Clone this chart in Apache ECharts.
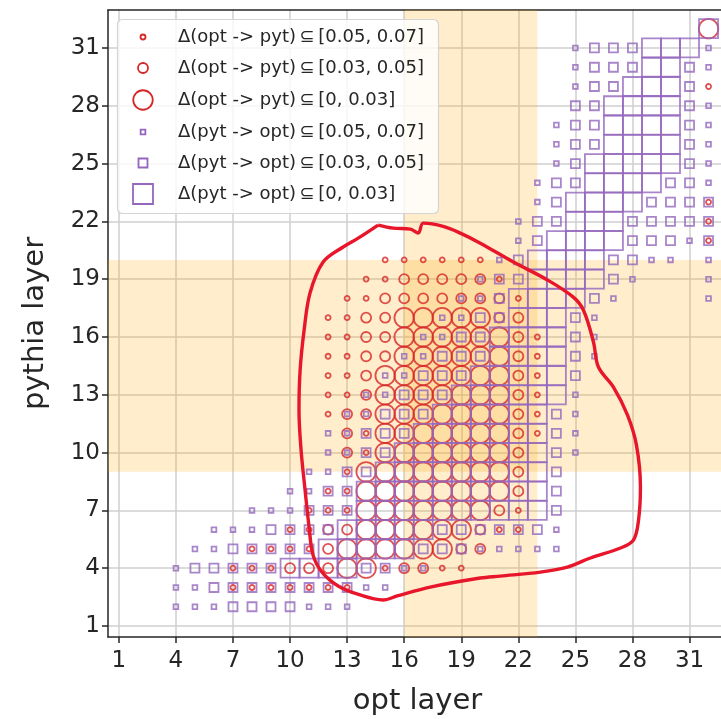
<!DOCTYPE html>
<html><head><meta charset="utf-8">
<script src="https://cdn.jsdelivr.net/npm/echarts@6/dist/echarts.min.js"></script>
<style>html,body{margin:0;padding:0;background:#fff}#c{width:721px;height:719px}</style>
</head><body><div id="c"></div>
<script>
// ---- data ----
const tickValues = [1, 4, 7, 10, 13, 16, 19, 22, 25, 28, 31];
const optLayers = Array.from({length: 32}, (_, i) => i + 1);          // x = 1..32 (string column index + 1)
const pythiaLayers = Array.from({length: 32}, (_, i) => 32 - i);      // rows listed from 32 down to 1
// category per cell: 0 none, 1 = [0.05,0.07], 2 = [0.03,0.05], 3 = [0,0.03]
const optToPytRows = [
  "0000 0000 0000 0000 0000 0000 0000 0003", // 32
  "0000 0000 0000 0000 0000 0000 0000 0000", // 31
  "0000 0000 0000 0000 0000 0000 0000 0000", // 30
  "0000 0000 0000 0000 0000 0000 0000 0001", // 29
  "0000 0000 0000 0000 0000 0000 0000 0000", // 28
  "0000 0000 0000 0000 0000 0000 0000 0000", // 27
  "0000 0000 0000 0000 0000 0000 0000 0000", // 26
  "0000 0000 0000 0000 0000 0000 0000 0000", // 25
  "0000 0000 0000 0000 0000 0000 0000 0000", // 24
  "0000 0000 0000 0000 0000 0000 0000 0001", // 23
  "0000 0000 0000 0000 0000 0000 0000 0001", // 22
  "0000 0000 0000 0000 0000 0000 0000 0001", // 21
  "0000 0000 0000 0011 1111 0000 0000 0000", // 20
  "0000 0000 0000 0112 2222 1000 0000 0000", // 19
  "0000 0000 0000 1122 2222 2100 0000 0000", // 18
  "0000 0000 0001 1223 3333 2200 0000 0000", // 17
  "0000 0000 0001 1223 3333 3210 0000 0000", // 16
  "0000 0000 0001 1223 3333 3210 0000 0000", // 15
  "0000 0000 0001 1233 3333 3210 0000 0000", // 14
  "0000 0000 0001 1233 3333 3210 0000 0000", // 13
  "0000 0000 0001 2233 3333 3210 0000 0000", // 12
  "0000 0000 0000 2133 3333 3210 0000 0000", // 11
  "0000 0000 0000 2133 3333 3200 0000 0000", // 10
  "0000 0000 0000 1333 3333 3200 0000 0000", // 9
  "0000 0000 0001 1333 3333 3200 0000 0000", // 8
  "0000 0000 0011 1333 3333 2100 0000 0000", // 7
  "0000 0000 0112 2333 3332 1100 0000 0000", // 6
  "0000 0001 1112 3333 3322 0000 0000 0000", // 5
  "0000 0011 1222 3312 2110 0000 0000 0000", // 4
  "0000 0011 1111 1000 0000 0000 0000 0000", // 3
  "0000 0000 0000 0000 0000 0000 0000 0000", // 2
  "0000 0000 0000 0000 0000 0000 0000 0000"  // 1
];
const pytToOptRows = [
  "0000 0000 0000 0000 0000 0000 0000 0003", // 32
  "0000 0000 0000 0000 0000 0000 1222 3331", // 31
  "0000 0000 0000 0000 0000 0000 1222 3321", // 30
  "0000 0000 0000 0000 0000 0000 1223 3320", // 29
  "0000 0000 0000 0000 0000 0000 2233 3321", // 28
  "0000 0000 0000 0000 0000 0001 2233 3321", // 27
  "0000 0000 0000 0000 0000 0001 2233 3321", // 26
  "0000 0000 0000 0000 0000 0001 2333 3321", // 25
  "0000 0000 0000 0000 0000 0012 2333 3221", // 24
  "0000 0000 0000 0000 0000 0012 3333 2222", // 23
  "0000 0000 0000 0000 0000 0122 3332 2222", // 22
  "0000 0000 0000 0000 0000 0123 3332 2212", // 21
  "0000 0000 0000 0000 0000 1233 3322 1101", // 20
  "0000 0000 0000 0000 0001 2233 3321 0001", // 19
  "0000 0000 0000 0000 0011 2333 3210 0001", // 18
  "0000 0000 0000 0000 0112 2333 2100 0000", // 17
  "0000 0000 0000 0000 1122 3333 2100 0000", // 16
  "0000 0000 0000 0001 1222 3333 2100 0000", // 15
  "0000 0000 0000 0011 2223 3333 2000 0000", // 14
  "0000 0000 0000 0112 2233 3333 1000 0000", // 13
  "0000 0000 0000 1122 2333 3332 1000 0000", // 12
  "0000 0000 0001 1222 3333 3332 1000 0000", // 11
  "0000 0000 0001 1223 3333 3332 1000 0000", // 10
  "0000 0000 0011 2233 3333 3332 0000 0000", // 9
  "0000 0000 0112 2333 3333 3332 0000 0000", // 8
  "0000 0001 1122 2333 3333 3332 0000 0000", // 7
  "0000 0111 2222 3333 3222 2221 0000 0000", // 6
  "0000 1122 2223 3333 2221 1111 0000 0000", // 5
  "0001 2222 2333 3221 1000 0000 0000 0000", // 4
  "0001 1222 2222 2110 0000 0000 0000 0000", // 3
  "0001 1122 2211 1000 0000 0000 0000 0000", // 2
  "0000 0000 0000 0000 0000 0000 0000 0000"  // 1
];
const rangeLabels = ["[0.05, 0.07]", "[0.03, 0.05]", "[0, 0.03]"];
// hand-drawn outline (opt layer, pythia layer)
const curveOpt = [14.63, 15.42, 16.32, 16.74, 17.0, 18.05, 18.95, 20.0, 21.74, 23.53, 24.89, 25.42, 25.95, 26.21, 27.0, 27.74, 28.21, 28.42, 28.32, 28.05, 27.37, 25.79, 24.58, 23.16, 21.05, 20.0, 17.37, 15.63, 14.89, 13.68, 12.53, 11.68, 11.21, 11.0, 10.79, 10.58, 10.47, 10.53, 10.74, 11.05, 11.74, 12.79, 13.58, 14.63];
const curvePyt = [21.81, 21.65, 21.60, 21.39, 21.91, 21.74, 21.39, 20.87, 19.89, 18.96, 18.07, 17.40, 15.74, 14.44, 13.40, 11.95, 10.39, 8.21, 6.50, 5.46, 5.05, 4.53, 4.06, 3.80, 3.59, 3.49, 3.02, 2.56, 2.35, 2.61, 3.08, 3.80, 4.68, 6.14, 8.06, 10.13, 12.21, 14.28, 16.36, 18.28, 19.89, 20.67, 21.13, 21.81];
const bandOpt = [16, 23];
const bandPyt = [9, 20];

// ---- build ----
const FONT = 'DejaVu Sans';
const RED = '#d62728', PURPLE = '#9467bd', INK = '#262626';
const STROKE = 1.8;
function cells(rows, cat) {
  const out = [];
  rows.forEach((s, i) => {
    s.replace(/ /g, '').split('').map(Number).forEach((c, j) => {
      if (c === cat) out.push([optLayers[j], pythiaLayers[i]]);
    });
  });
  return out;
}
const circleSizes = [5, 10, 19.5];
const squareSizes = [4.7, 9, 19];
const circleNames = rangeLabels.map(r => 'Δ(opt -> pyt)\u2009⊆\u2009' + r);
const squareNames = rangeLabels.map(r => 'Δ(pyt -> opt)\u2009⊆\u2009' + r);

const series = [];
series.push({
  type: 'scatter', data: [], z: 1, silent: true,
  markArea: { silent: true, itemStyle: { color: 'rgba(255,165,0,0.2)' },
    data: [[{ xAxis: bandOpt[0] }, { xAxis: bandOpt[1] }], [{ yAxis: bandPyt[0] }, { yAxis: bandPyt[1] }]] }
});
[1, 2, 3].forEach((cat, k) => {
  series.push({
    name: circleNames[k], type: 'scatter', symbol: 'circle', symbolSize: circleSizes[k],
    data: cells(optToPytRows, cat), z: 3, silent: true,
    itemStyle: { color: 'rgba(0,0,0,0)', borderColor: RED, borderWidth: STROKE }
  });
});
[1, 2, 3].forEach((cat, k) => {
  series.push({
    name: squareNames[k], type: 'scatter', symbol: 'rect', symbolSize: squareSizes[k],
    data: cells(pytToOptRows, cat), z: 4, silent: true,
    itemStyle: { color: 'rgba(0,0,0,0)', borderColor: PURPLE, borderWidth: STROKE }
  });
});
series.push({
  type: 'line', data: curveOpt.map((x, i) => [x, curvePyt[i]]), showSymbol: false, smooth: 0.35,
  z: 10, silent: true, lineStyle: { color: '#e8162b', width: 3.4 }
});

// legend drawn as graphic (box, key symbols, labels)
const legendRowsY = [37, 68, 100, 132, 163, 194];
const legendGraphics = [{ type: 'rect', z: 50, silent: true,
  shape: { x: 117.5, y: 19.5, width: 321, height: 194, r: 5 },
  style: { fill: 'rgba(255,255,255,0.8)', stroke: '#d4d4d4', lineWidth: 1.2 } }];
circleNames.concat(squareNames).forEach((nm, i) => {
  const cy = legendRowsY[i], cx = 143;
  if (i < 3) {
    const r = circleSizes[i] / 2;
    legendGraphics.push({ type: 'circle', z: 51, silent: true, shape: { cx: cx, cy: cy, r: r },
      style: { fill: 'none', stroke: RED, lineWidth: STROKE } });
  } else {
    const s = squareSizes[i - 3] + (i === 5 ? 1 : 0);
    legendGraphics.push({ type: 'rect', z: 51, silent: true, shape: { x: cx - s / 2, y: cy - s / 2, width: s, height: s },
      style: { fill: 'none', stroke: PURPLE, lineWidth: STROKE } });
  }
  legendGraphics.push({ type: 'text', z: 51, silent: true, x: 178, y: cy,
    style: { text: nm, fontSize: 18, fontFamily: FONT, fill: INK, verticalAlign: 'middle', align: 'left' } });
});

const axisCommon = {
  type: 'value', min: 0.43, max: 32.97,
  axisLine: { show: true, onZero: false, lineStyle: { color: INK, width: 1.5 } },
  axisTick: { show: true, length: 6, customValues: tickValues, lineStyle: { color: INK, width: 1.5 } },
  axisLabel: { customValues: tickValues, fontSize: 23, color: INK, fontFamily: FONT, margin: 13 },
  splitLine: { show: true, lineStyle: { color: '#cfcfcf', width: 1.5 } },
  nameLocation: 'middle', nameTextStyle: { fontSize: 29, color: INK, fontFamily: FONT }
};

const option = {
  animation: false,
  backgroundColor: '#ffffff',
  grid: { left: 108, top: 10, width: 619, height: 627, outerBoundsMode: 'none', containLabel: false },
  xAxis: [
    Object.assign({}, axisCommon, { position: 'bottom', name: 'opt layer', nameGap: 50 }),
    { type: 'value', min: 0.43, max: 32.97, position: 'top',
      axisLine: { show: true, onZero: false, lineStyle: { color: INK, width: 1.5 } },
      axisTick: { show: false }, axisLabel: { show: false }, splitLine: { show: false } }
  ],
  yAxis: [Object.assign({}, axisCommon, { position: 'left', name: 'pythia layer', nameGap: 58,
    axisLabel: Object.assign({}, axisCommon.axisLabel, { margin: 8 }) })],
  graphic: legendGraphics,
  series: series
};
const chart = echarts.init(document.getElementById('c'));
chart.setOption(option);
</script></body></html>
